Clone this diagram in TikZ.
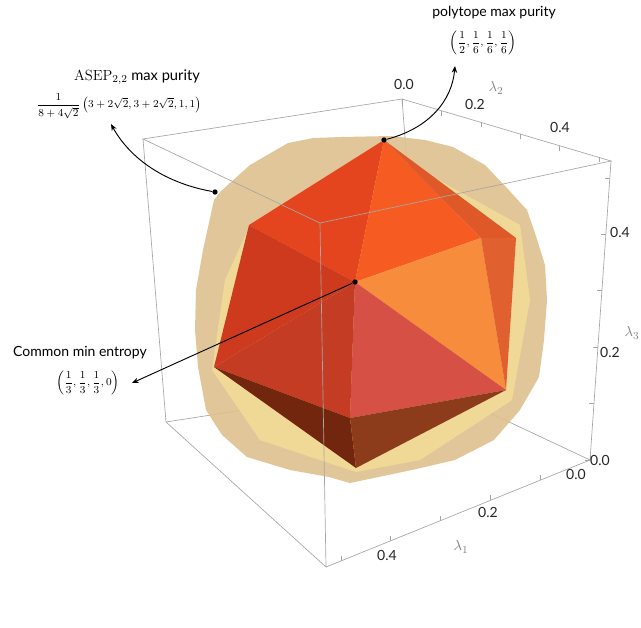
\documentclass[tikz,border=0pt]{standalone}
\usepackage{fontspec}
\setsansfont{Lato}
\usetikzlibrary{arrows.meta,calc}
\begin{document}
\begin{tikzpicture}[x=0.75pt,y=-0.75pt,
  box/.style={draw=gray!70,line width=0.5pt},
  tick/.style={font=\sffamily\fontsize{10.5}{12}\selectfont,text=black!85},
  axl/.style={font=\fontsize{11}{12}\selectfont,text=gray},
  lab/.style={font=\sffamily\fontsize{10.5}{13}\selectfont,align=center},
  frm/.style={font=\fontsize{8.5}{10}\selectfont,align=center,inner sep=1pt},
  call/.style={line width=0.7pt,-{Stealth[length=5pt,width=4pt]}},
  dot/.style={circle,fill=black,inner sep=0pt,minimum size=4pt}]
\useasboundingbox (0,0) rectangle (641,627);
% box corners
\coordinate (TL) at (143,139); \coordinate (TB) at (402,99);
\coordinate (TR) at (611,161); \coordinate (TF) at (320,223);
\coordinate (BL) at (166,422); \coordinate (BB) at (424,382);
\coordinate (BR) at (590,460); \coordinate (BF) at (326,567);
% hidden back edges
\draw[box] (TB) -- (BB) (BL) -- (BB) -- (BR);
% blob
\fill[color={rgb,255:red,222;green,192;blue,142},opacity=0.9]
 (342,137) -- (391,136) -- (425,140) -- (453,147) -- (485,165) -- (506,187) -- (527,210)
 -- (535,233) -- (545,265) -- (547,300) -- (544,340) -- (539,377) -- (520,410)
 -- (494,440) -- (455,460) -- (412,470) -- (350,483) -- (329,477) -- (290,470)
 -- (247,457) -- (222,435) -- (206,410) -- (198,367) -- (195,330) -- (196,290)
 -- (203,250) -- (214,200) -- (220,192) -- (250,165) -- (288,143) -- (313,138) -- cycle;
\fill[color={rgb,255:red,245;green,222;blue,150},opacity=0.8]
 (250,225) -- (384,150) -- (520,225) -- (530,300) -- (512,400) -- (420,460)
 -- (356,472) -- (260,440) -- (212,370) -- (225,280) -- cycle;
% polytope
\coordinate (V) at (384,140); \coordinate (L1) at (249,225);
\coordinate (C) at (355,282); \coordinate (R0) at (481,238);
\coordinate (R1) at (516,238); \coordinate (L2) at (214,367);
\coordinate (R2) at (506,390); \coordinate (B1) at (350,418);
\coordinate (B) at (356,468);
\fill[color={rgb,255:red,228;green,68;blue,30}] (V) -- (L1) -- (C) -- cycle;
\fill[color={rgb,255:red,246;green,92;blue,34}] (V) -- (C) -- (R0) -- cycle;
\fill[color={rgb,255:red,222;green,88;blue,40}] (V) -- (R0) -- (R1) -- cycle;
\fill[color={rgb,255:red,247;green,140;blue,60}] (C) -- (R0) -- (R2) -- cycle;
\fill[color={rgb,255:red,224;green,96;blue,48}] (R0) -- (R1) -- (R2) -- cycle;
\fill[color={rgb,255:red,214;green,80;blue,70}] (C) -- (R2) -- (B1) -- cycle;
\fill[color={rgb,255:red,205;green,58;blue,30}] (L1) -- (C) -- (L2) -- cycle;
\fill[color={rgb,255:red,196;green,60;blue,36}] (L2) -- (C) -- (B1) -- cycle;
\fill[color={rgb,255:red,115;green,38;blue,14}] (L2) -- (B1) -- (B) -- cycle;
\fill[color={rgb,255:red,140;green,60;blue,26}] (B1) -- (R2) -- (B) -- cycle;
% visible box edges
\draw[box] (TL) -- (TB) -- (TR) -- (TF) -- cycle;
\draw[box] (TL) -- (BL) -- (BF) -- (BR) -- (TR);
\draw[box] (TF) -- (BF);
% ticks
\foreach \t in {0,0.1,...,0.51} {\draw[box] ($(TB)!\t/0.53!(TR)$) -- ++(0,5);}
\foreach \t in {0,0.1,...,0.51} {\draw[box] ($(BR)!\t/0.53!(BF)$) -- ++(0,-5);}
\foreach \t in {0,0.1,...,0.51} {\draw[box] ($(BR)!\t/0.53!(TR)$) -- ++(-5,0);}
% tick labels
\node[tick] (a0) at (404,84) {0.0}; \node[tick] (a2) at (475,104) {0.2};
\node[tick] (a4) at (560,127) {0.4}; \node[axl] (l2) at (496,88) {$\lambda_2$};
\node[tick] (c4) at (620,232) {0.4}; \node[tick] (c2) at (610,352) {0.2};
\node[tick] (c0) at (600,460) {0.0}; \node[axl] (l3) at (632,333) {$\lambda_3$};
\node[tick] (b0) at (576,474) {0.0}; \node[tick] (b2) at (488,512) {0.2};
\node[tick] (b4) at (387,555) {0.4}; \node[axl] (l1) at (461,547) {$\lambda_1$};
% labels
\node[lab] (pt) at (494,13) {polytope max purity};
\node[frm] (pf) at (483,43) {$\displaystyle\left(\frac{1}{2},\frac{1}{6},\frac{1}{6},\frac{1}{6}\right)$};
\node[lab,font=\sffamily\fontsize{11}{13}\selectfont] (at) at (137,77) {$\mathrm{ASEP}_{2,2}$ max purity};
\node[frm] (af) at (119,106) {$\displaystyle\frac{1}{8+4\sqrt{2}}\left(3+2\sqrt{2},3+2\sqrt{2},1,1\right)$};
\node[lab] (ct) at (80,353) {Common min entropy};
\node[frm] (cf) at (88,383) {$\displaystyle\left(\frac{1}{3},\frac{1}{3},\frac{1}{3},0\right)$};
% callouts
\node[dot] (d1) at (384,140) {}; \node[dot] (d2) at (215,192) {}; \node[dot] (d3) at (355,282) {};
\coordinate (e1) at (455,66); \coordinate (e2) at (111,124); \coordinate (e3) at (132,383);
\draw[call] (d1) .. controls (430,128) and (452,100) .. (e1);
\draw[call] (d2) .. controls (160,182) and (128,155) .. (e2);
\draw[call] (d3) -- (e3);
\end{tikzpicture}
\end{document}
